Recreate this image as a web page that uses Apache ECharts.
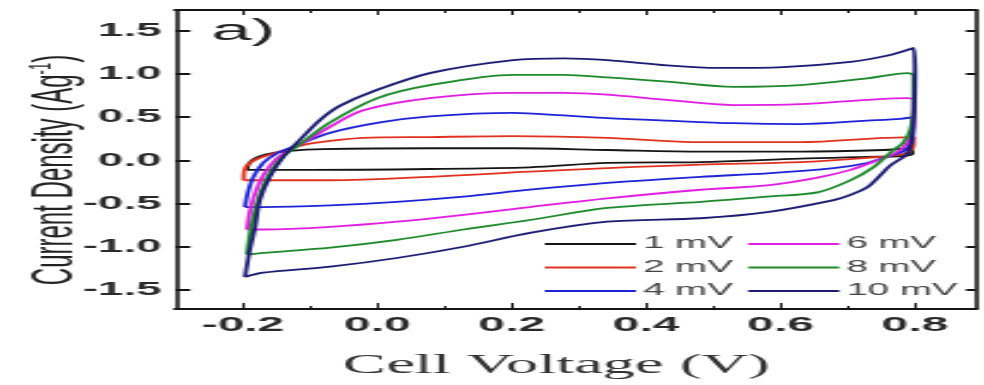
<!DOCTYPE html>
<html>
<head>
<meta charset="utf-8">
<title>Cyclic voltammetry</title>
<script src="https://cdn.jsdelivr.net/npm/echarts@6.0.0/dist/echarts.min.js"></script>
<style>
  html, body { margin: 0; padding: 0; background: #fff; overflow: hidden; }
  /* source figure is stretched ~2.4x horizontally: draw narrow, then stretch */
  #chart { width: 410px; height: 385px; transform: scaleX(2.4); transform-origin: 0 0; }
</style>
</head>
<body>
<div id="chart"></div>
<script>
// scan rates (legend labels)
const seriesNames = ["1 mV", "2 mV", "4 mV", "6 mV", "8 mV", "10 mV"];

// tick values
const xTicksMajor = [-0.2, 0.0, 0.2, 0.4, 0.6, 0.8];
const xTicksMinor = [-0.1, 0.1, 0.3, 0.5, 0.7];
const yTicks = [-1.5, -1.0, -0.5, 0.0, 0.5, 1.0, 1.5];

// [cell voltage V, current density A/g], anodic sweep then cathodic sweep
const cv1mV = [
  [-0.194, -0.11], [-0.192, -0.05], [-0.185, 0.01], [-0.165, 0.07], [-0.130, 0.11],
  [-0.080, 0.13], [0.078, 0.14], [0.202, 0.14], [0.342, 0.12], [0.481, 0.10],
  [0.629, 0.10], [0.753, 0.12], [0.793, 0.14], [0.796, 0.08], [0.780, 0.05],
  [0.729, 0.04], [0.629, 0.02], [0.481, -0.02], [0.342, -0.03], [0.227, -0.08],
  [0.078, -0.10], [-0.100, -0.11], [-0.194, -0.11]
];
const cv2mV = [
  [-0.199, -0.23], [-0.198, -0.12], [-0.192, -0.04], [-0.175, 0.03], [-0.150, 0.09],
  [-0.125, 0.15], [-0.096, 0.20], [-0.021, 0.26], [0.078, 0.27], [0.202, 0.28],
  [0.342, 0.26], [0.481, 0.21], [0.629, 0.21], [0.753, 0.26], [0.798, 0.27],
  [0.797, 0.15], [0.782, 0.07], [0.729, 0.03], [0.629, -0.02], [0.481, -0.05],
  [0.342, -0.09], [0.227, -0.13], [0.078, -0.19], [-0.070, -0.23], [-0.199, -0.23]
];
const cv4mV = [
  [-0.197, -0.54], [-0.193, -0.38], [-0.185, -0.20], [-0.170, -0.03], [-0.150, 0.08],
  [-0.125, 0.16], [-0.070, 0.32], [0.004, 0.44], [0.078, 0.51], [0.202, 0.55],
  [0.277, 0.52], [0.342, 0.49], [0.431, 0.46], [0.530, 0.43], [0.629, 0.42],
  [0.729, 0.46], [0.778, 0.48], [0.797, 0.50], [0.797, 0.30], [0.786, 0.12],
  [0.753, 0.03], [0.729, -0.03], [0.679, -0.09], [0.580, -0.15], [0.481, -0.19],
  [0.342, -0.26], [0.227, -0.34], [0.128, -0.42], [0.029, -0.48], [-0.070, -0.52],
  [-0.170, -0.54], [-0.197, -0.54]
];
const cv6mV = [
  [-0.194, -0.80], [-0.190, -0.60], [-0.182, -0.38], [-0.168, -0.15], [-0.150, 0.02],
  [-0.130, 0.12], [-0.111, 0.20], [-0.070, 0.39], [-0.021, 0.58], [0.078, 0.72],
  [0.202, 0.78], [0.277, 0.78], [0.342, 0.76], [0.431, 0.70], [0.530, 0.64],
  [0.629, 0.65], [0.729, 0.70], [0.789, 0.72], [0.798, 0.70], [0.797, 0.40],
  [0.789, 0.20], [0.770, 0.08], [0.744, 0.00], [0.704, -0.11], [0.655, -0.20],
  [0.580, -0.29], [0.481, -0.34], [0.342, -0.44], [0.227, -0.54], [0.128, -0.63],
  [0.029, -0.71], [-0.070, -0.77], [-0.170, -0.80], [-0.194, -0.80]
];
const cv8mV = [
  [-0.194, -1.09], [-0.189, -0.82], [-0.182, -0.58], [-0.172, -0.34], [-0.158, -0.12],
  [-0.140, 0.05], [-0.120, 0.16], [-0.070, 0.44], [0.000, 0.72], [0.078, 0.87],
  [0.202, 0.99], [0.277, 0.99], [0.342, 0.96], [0.431, 0.91], [0.530, 0.85],
  [0.629, 0.87], [0.729, 0.95], [0.789, 1.01], [0.798, 0.98], [0.798, 0.60],
  [0.793, 0.35], [0.782, 0.20], [0.768, 0.12], [0.738, -0.08], [0.704, -0.23],
  [0.655, -0.37], [0.580, -0.42], [0.481, -0.48], [0.342, -0.55], [0.227, -0.69],
  [0.128, -0.80], [0.029, -0.92], [-0.070, -1.01], [-0.170, -1.07], [-0.194, -1.09]
];
const cv10mV = [
  [-0.197, -1.35], [-0.190, -1.04], [-0.182, -0.77], [-0.175, -0.46], [-0.160, -0.19],
  [-0.140, 0.04], [-0.115, 0.24], [-0.085, 0.47], [-0.056, 0.63], [-0.006, 0.80],
  [0.078, 1.01], [0.202, 1.16], [0.277, 1.18], [0.342, 1.16], [0.431, 1.10],
  [0.506, 1.07], [0.604, 1.08], [0.704, 1.14], [0.763, 1.22], [0.798, 1.30],
  [0.800, 1.00], [0.799, 0.60], [0.796, 0.30], [0.789, 0.08], [0.763, -0.06],
  [0.745, -0.20], [0.729, -0.31], [0.704, -0.40], [0.679, -0.46], [0.580, -0.60],
  [0.481, -0.67], [0.342, -0.71], [0.227, -0.84], [0.128, -1.00], [0.029, -1.13],
  [-0.070, -1.23], [-0.170, -1.30], [-0.197, -1.35]
];

const curves = [cv1mV, cv2mV, cv4mV, cv6mV, cv8mV, cv10mV];
const colors = ["#151515", "#e0321f", "#1f23d6", "#e21ee2", "#1f8a2c", "#1c1c72"];

const ink = "#151515";
const sans = "Liberation Sans";
const xMin = -0.3, xMax = 0.89;
const yMin = -1.72, yMax = 1.74;

function xAxisCfg(position, ticks, tickLen, withLabels) {
  return {
    type: "value",
    position: position,
    min: xMin,
    max: xMax,
    axisLine: { show: true, onZero: false, lineStyle: { color: ink, width: 2 } },
    axisTick: { show: true, inside: true, length: tickLen, customValues: ticks, lineStyle: { color: ink, width: 1 } },
    axisLabel: withLabels
      ? { show: true, customValues: ticks, formatter: (v) => v.toFixed(1), margin: 6,
          fontSize: 20, fontWeight: "bold", color: "#2a2a2a", fontFamily: sans }
      : { show: false },
    splitLine: { show: false },
  };
}

function legendCfg(names, left) {
  return {
    data: names,
    orient: "vertical", left: left, top: 236, padding: 0,
    icon: "rect", itemWidth: 38, itemHeight: 2, itemGap: 7.5,
    selectedMode: false,
    textStyle: { fontSize: 16, color: "#444", fontFamily: sans, padding: [0, 0, 0, -2] },
  };
}

const chart = echarts.init(document.getElementById("chart"));
chart.setOption({
  animation: false,
  backgroundColor: "#fff",
  title: {
    text: "a)",
    left: 88,
    top: 17,
    padding: 0,
    textStyle: { fontSize: 30, fontWeight: "normal", color: "#222", fontFamily: sans },
  },
  grid: { left: 73.25, right: 3.55, top: 10, bottom: 76, outerBoundsMode: "none" },
  legend: [
    legendCfg(seriesNames.slice(0, 3), 227),
    legendCfg(seriesNames.slice(3), 311.7),
  ],
  xAxis: [
    Object.assign(xAxisCfg("bottom", xTicksMajor, 6, true), {
      name: "Cell Voltage (V)",
      nameLocation: "middle",
      nameGap: 43,
      nameMoveOverlap: false,
      nameTextStyle: { fontSize: 27, fontFamily: "Liberation Serif", color: "#333", padding: [0, 16, 0, 0] },
    }),
    xAxisCfg("bottom", xTicksMinor, 3, false),
    xAxisCfg("top", xTicksMajor, 5, false),
    xAxisCfg("top", xTicksMinor, 3, false),
  ],
  yAxis: [
    {
      type: "value", position: "left", min: yMin, max: yMax,
      axisLine: { show: true, onZero: false, lineStyle: { color: ink, width: 1.6 } },
      axisTick: { show: true, inside: true, length: 6, customValues: yTicks, lineStyle: { color: ink, width: 2 } },
      axisLabel: { customValues: yTicks, formatter: (v) => v.toFixed(1), margin: 6,
        fontSize: 19, fontWeight: "bold", color: "#2a2a2a", fontFamily: sans },
      splitLine: { show: false },
      name: "Current Density (Ag{sup|-1})",
      nameLocation: "middle",
      nameGap: 38,
      nameMoveOverlap: false,
      nameTextStyle: {
        fontSize: 24, color: "#222", fontFamily: sans, padding: [0, 21, 0, 0],
        rich: { sup: { fontSize: 13, verticalAlign: "top", color: "#222", fontFamily: sans } },
      },
    },
    {
      type: "value", position: "right", min: yMin, max: yMax,
      axisLine: { show: true, onZero: false, lineStyle: { color: ink, width: 1.6 } },
      axisTick: { show: true, inside: true, length: 4, customValues: yTicks, lineStyle: { color: ink, width: 2 } },
      axisLabel: { show: false },
      splitLine: { show: false },
    },
  ],
  series: curves.map((d, i) => ({
    name: seriesNames[i],
    type: "line",
    xAxisIndex: 0,
    yAxisIndex: 0,
    data: d,
    symbol: "none",
    smooth: 0.3,
    lineStyle: { width: 1.8, color: colors[i] },
    itemStyle: { color: colors[i] },
  })),
});
</script>
</body>
</html>
